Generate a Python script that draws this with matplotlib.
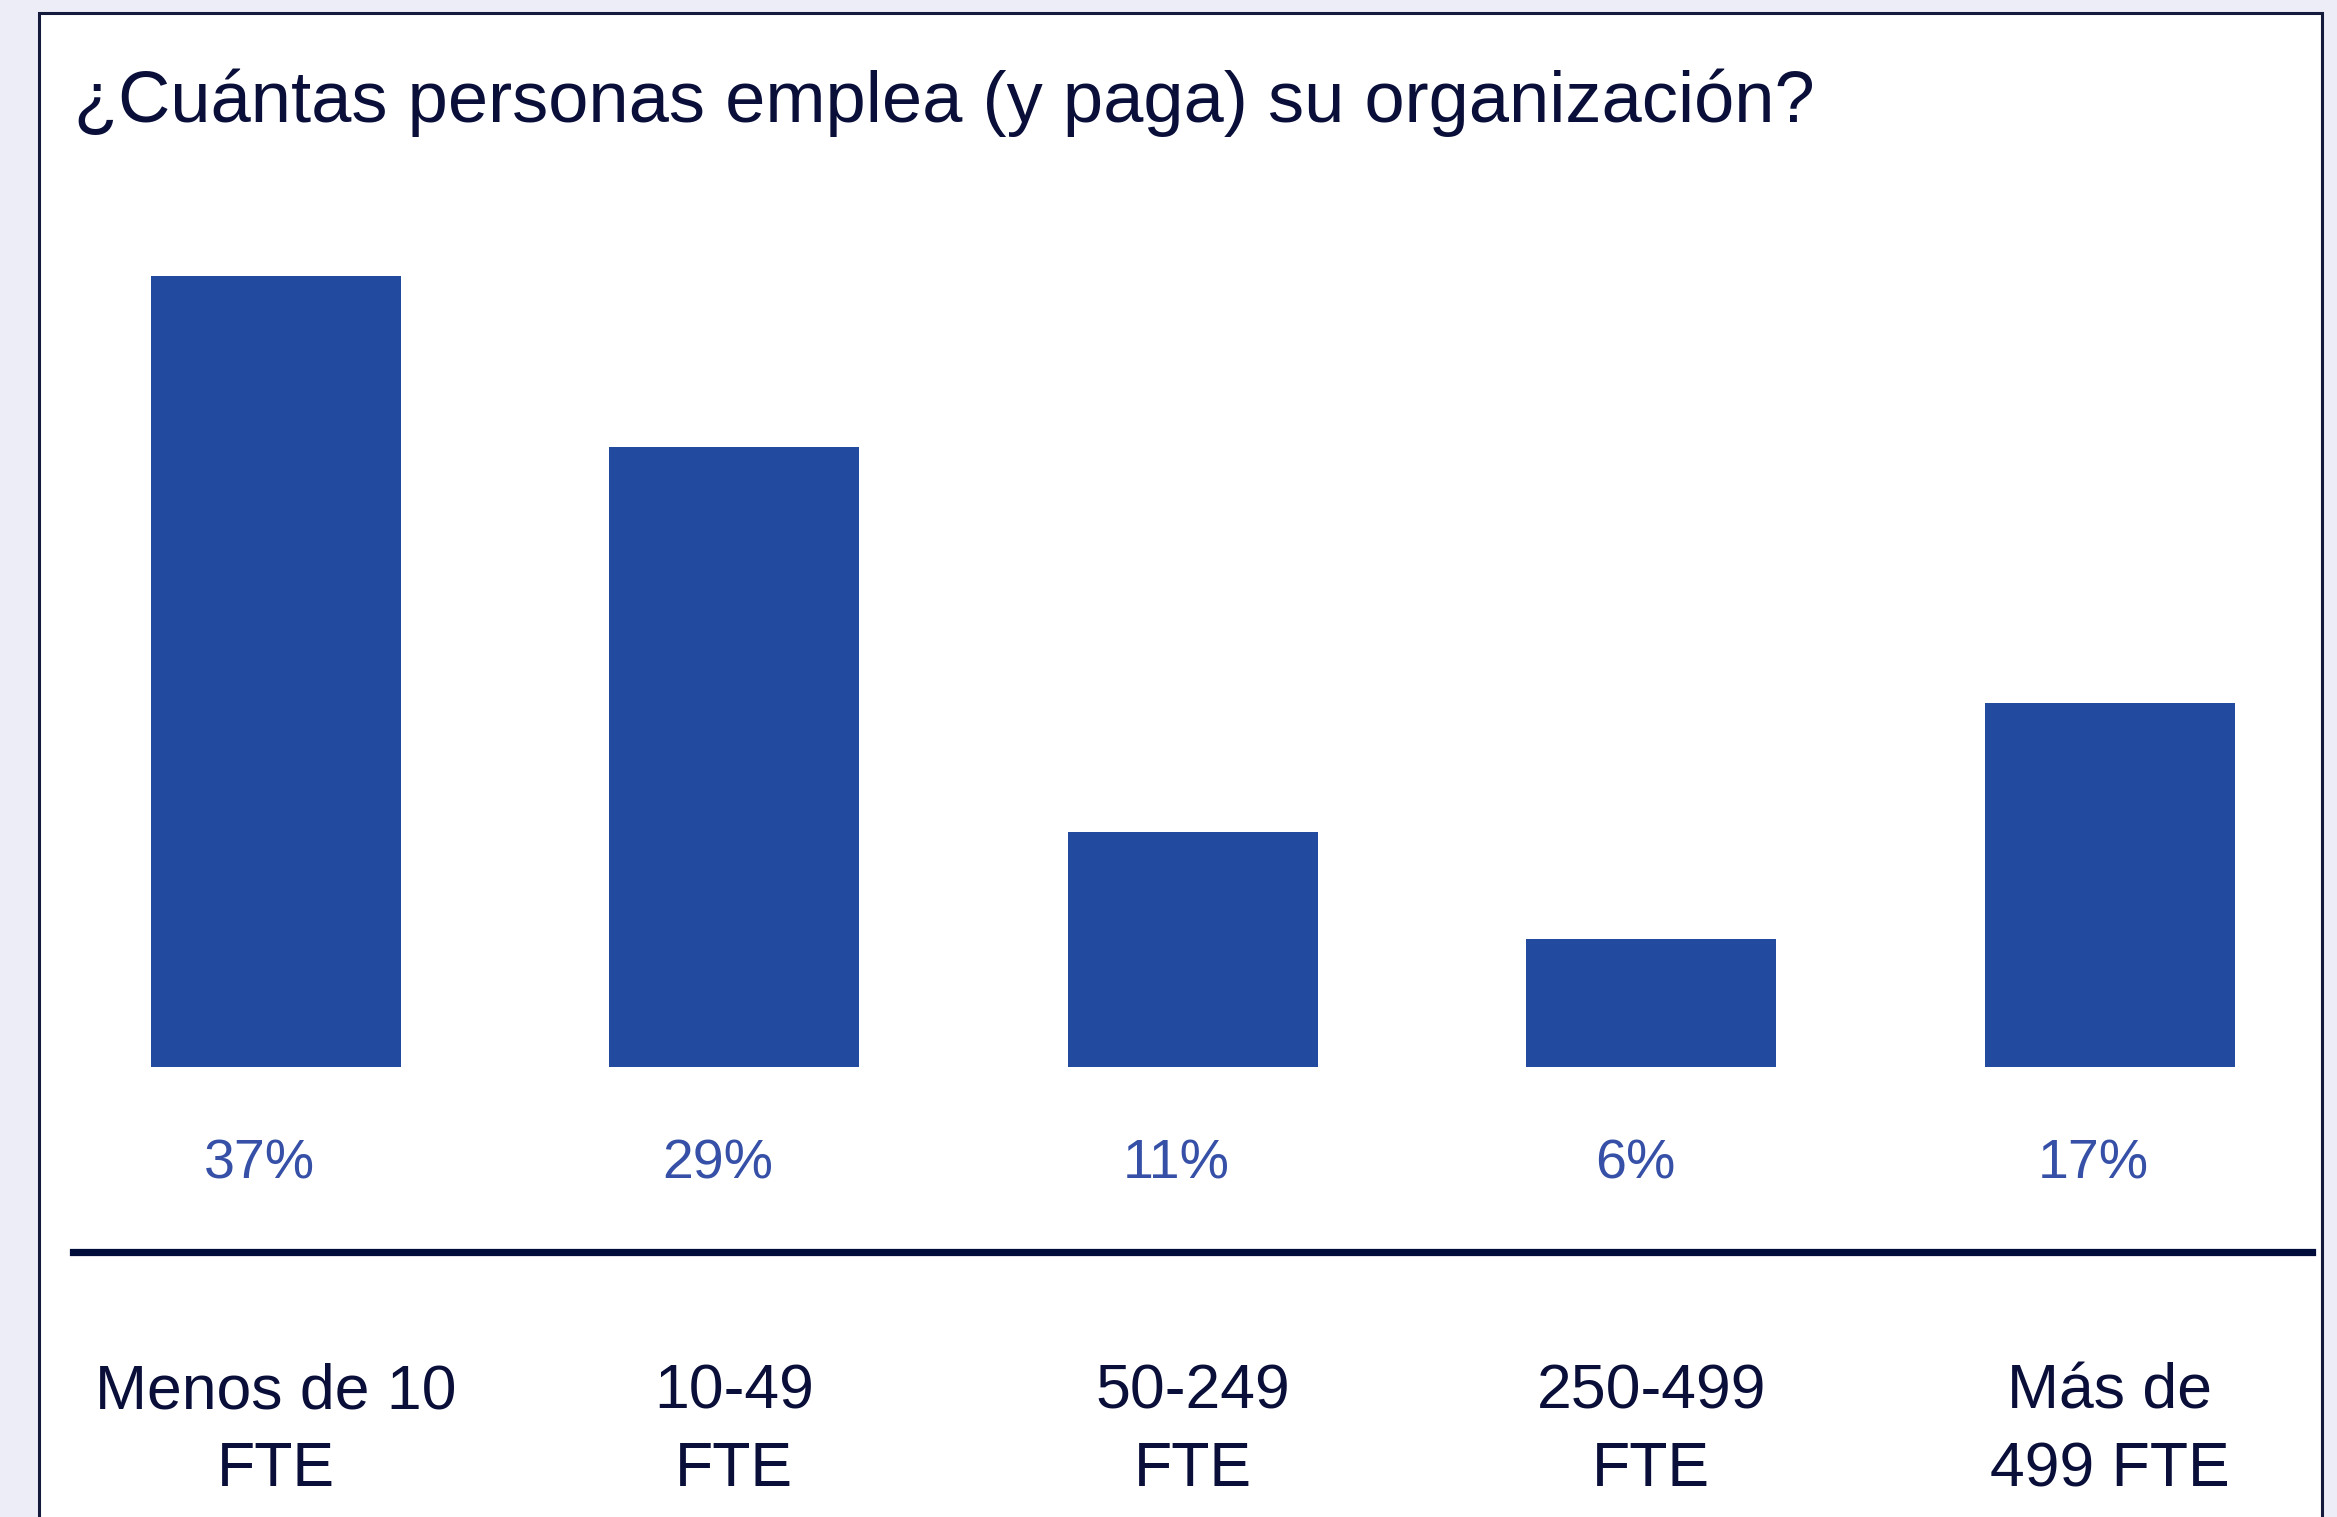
# Tamaño de la organización (FTE) - gráfico de barras

import matplotlib.pyplot as plt
from matplotlib.patches import Rectangle
from matplotlib.lines import Line2D
import matplotlib.transforms as mtransforms

categorias = ["Menos de 10\nFTE", "10-49\nFTE", "50-249\nFTE", "250-499\nFTE", "Más de\n499 FTE"]
porcentajes = [37, 29, 11, 6, 17]
etiquetas = ["37%", "29%", "11%", "6%", "17%"]
titulo = "¿Cuántas personas emplea (y paga) su organización?"

azul = "#224B9F"
azul_texto = "#3550A6"
marino = "#0A0F3A"

plt.rcParams['font.family'] = ['Liberation Sans', 'DejaVu Sans']

W, H = 2337, 1517
fig = plt.figure(figsize=(W / 100, H / 100), dpi=100)
fig.patch.set_facecolor("#EDEDF8")

# marco blanco (sale por abajo)
fig.add_artist(Rectangle((38.75 / W, -0.05), (2322 - 38.75) / W, 1.05 - 13.4 / H,
                         transform=fig.transFigure, facecolor="white",
                         edgecolor="#141B3C", linewidth=2.2, zorder=-1))

# ejes: centros de barra ~275.7px, paso 458.5px ; base 1067px, 21.39px por %
ax = fig.add_axes([(275.7 - 229.25) / W, (H - 1067) / H, 2292.5 / W, 40 * 21.39 / H])
ax.set_xlim(-0.5, 4.5)
ax.set_ylim(0, 40)
ax.axis("off")

x = list(range(len(categorias)))
ax.bar(x, porcentajes, width=0.546, color=azul)

for i, lab in zip(x, etiquetas):
    ax.text(i - 0.035, -4.55, lab, ha="center", va="center", fontsize=40,
            color=azul_texto, clip_on=False)

trans = mtransforms.blended_transform_factory(ax.transData, fig.transFigure)
for i, cat in zip(x, categorias):
    ax.text(i, 86 / H, cat, ha="center", va="center", fontsize=45, color=marino,
            linespacing=1.4, transform=trans, clip_on=False)

# línea separadora
fig.add_artist(Line2D([73 / W, 2312 / W], [1 - 1252 / H, 1 - 1252 / H],
                      transform=fig.transFigure, color="#000C3A", linewidth=5.2))

fig.text(74.5 / W, 1 - 122 / H, titulo, ha="left", va="baseline", fontsize=52, color=marino)

plt.savefig("out.png", dpi=100, facecolor=fig.get_facecolor())
